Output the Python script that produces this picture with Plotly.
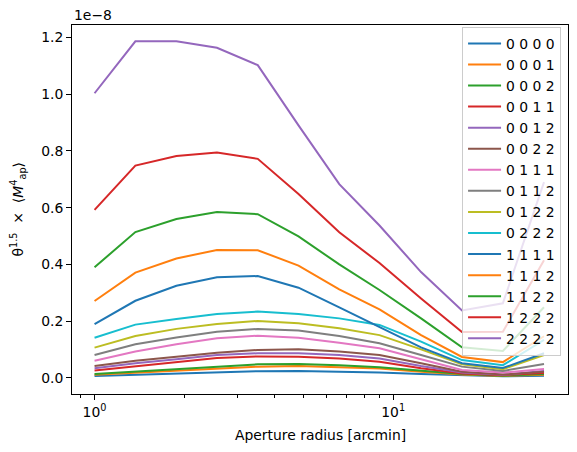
import plotly.graph_objects as go
import numpy as np

# aperture radii [arcmin]
radius = [1.0, 1.37, 1.88, 2.57, 3.52, 4.82, 6.6, 9.0, 12.4, 17.0, 23.3, 32.0]

# theta^1.5 * <Map^4>, in units of 1e-8
m0000 = [0.007, 0.011, 0.014, 0.020, 0.024, 0.025, 0.023, 0.019, 0.014, 0.009, 0.006, 0.008]
m0001 = [0.011, 0.018, 0.026, 0.034, 0.040, 0.042, 0.038, 0.033, 0.022, 0.012, 0.007, 0.011]
m0002 = [0.014, 0.022, 0.032, 0.040, 0.048, 0.049, 0.045, 0.038, 0.026, 0.014, 0.008, 0.014]
m0011 = [0.026, 0.040, 0.055, 0.070, 0.076, 0.075, 0.069, 0.057, 0.034, 0.016, 0.010, 0.018]
m0012 = [0.034, 0.052, 0.066, 0.081, 0.087, 0.087, 0.081, 0.069, 0.042, 0.019, 0.011, 0.025]
m0022 = [0.042, 0.061, 0.075, 0.089, 0.099, 0.101, 0.093, 0.081, 0.052, 0.022, 0.012, 0.022]
m0111 = [0.061, 0.093, 0.119, 0.140, 0.149, 0.142, 0.124, 0.105, 0.066, 0.028, 0.019, 0.032]
m0112 = [0.081, 0.119, 0.143, 0.163, 0.173, 0.167, 0.148, 0.122, 0.081, 0.040, 0.025, 0.049]
m0122 = [0.107, 0.148, 0.173, 0.190, 0.201, 0.193, 0.175, 0.151, 0.101, 0.048, 0.031, 0.081]
m0222 = [0.142, 0.188, 0.208, 0.225, 0.234, 0.225, 0.210, 0.187, 0.128, 0.063, 0.045, 0.134]
m1111 = [0.190, 0.272, 0.325, 0.355, 0.359, 0.318, 0.249, 0.181, 0.108, 0.052, 0.035, 0.087]
m1112 = [0.271, 0.371, 0.421, 0.451, 0.450, 0.396, 0.312, 0.242, 0.151, 0.074, 0.056, 0.147]
m1122 = [0.390, 0.514, 0.560, 0.585, 0.577, 0.499, 0.400, 0.310, 0.210, 0.108, 0.095, 0.249]
m1222 = [0.592, 0.748, 0.782, 0.794, 0.772, 0.648, 0.513, 0.405, 0.280, 0.162, 0.163, 0.415]
m2222 = [1.003, 1.186, 1.186, 1.163, 1.102, 0.890, 0.683, 0.537, 0.373, 0.238, 0.263, 0.690]

labels = ["0 0 0 0", "0 0 0 1", "0 0 0 2", "0 0 1 1", "0 0 1 2", "0 0 2 2", "0 1 1 1",
          "0 1 1 2", "0 1 2 2", "0 2 2 2", "1 1 1 1", "1 1 1 2", "1 1 2 2", "1 2 2 2", "2 2 2 2"]
series = [m0000, m0001, m0002, m0011, m0012, m0022, m0111, m0112, m0122, m0222,
          m1111, m1112, m1122, m1222, m2222]

ytick_vals = [0.0, 0.2, 0.4, 0.6, 0.8, 1.0, 1.2]
SCALE = 1e-8

tab10 = ["#1f77b4", "#ff7f0e", "#2ca02c", "#d62728", "#9467bd",
         "#8c564b", "#e377c2", "#7f7f7f", "#bcbd22", "#17becf"]

FONT = "DejaVu Sans"
FS = 13.9

fig = go.Figure()
for i, (lab, vals) in enumerate(zip(labels, series)):
    fig.add_trace(go.Scatter(x=radius, y=np.array(vals) * SCALE, mode="lines", name=lab,
                             line=dict(color=tab10[i % 10], width=2)))

# the page body adds an 8px offset, so the figure is 8px smaller than the window
fig.update_layout(
    width=569, height=444,
    margin=dict(l=64, r=9, t=17, b=58),
    paper_bgcolor="white", plot_bgcolor="white",
    font=dict(family=FONT, size=FS, color="black"),
    legend=dict(x=0.986, xanchor="right", y=0.995, yanchor="top",
                bgcolor="rgba(255,255,255,0.8)", bordercolor="#cccccc", borderwidth=1,
                itemwidth=33, font=dict(size=FS)),
    annotations=[
        dict(text="1e\u22128", xref="paper", yref="paper", x=0, y=1.0,
             xanchor="left", yanchor="bottom", showarrow=False, font=dict(size=FS)),
        dict(text="Aperture radius [arcmin]", xref="paper", yref="paper", x=0.5, y=-0.111,
             xanchor="center", yanchor="middle", showarrow=False, font=dict(size=FS)),
        dict(text="\u03b8<sup>1.5</sup>  \u00d7  \u27e8<i>M</i><sup>4</sup><sub>ap</sub>\u27e9",
             xref="paper", yref="paper", x=-0.109, y=0.5, textangle=-90,
             xanchor="center", yanchor="middle", showarrow=False, font=dict(size=FS)),
    ],
)

fig.update_xaxes(
    type="log", range=[-0.0755, 1.5855], automargin=False,
    tickvals=[1, 10], ticktext=["10<sup>0</sup>", "10<sup>1</sup>"],
    ticks="outside", ticklen=5, tickcolor="black",
    minor=dict(tickvals=[0.9, 2, 3, 4, 5, 6, 7, 8, 9, 20, 30], ticks="outside",
               ticklen=3, tickcolor="black"),
    showline=True, linecolor="black", linewidth=1, mirror=True,
    showgrid=False, zeroline=False,
)
fig.update_yaxes(
    range=[-0.0564 * SCALE, 1.2434 * SCALE], automargin=False,
    tickvals=[v * SCALE for v in ytick_vals], ticktext=[f"{v:.1f}" for v in ytick_vals],
    ticks="outside", ticklen=5, tickcolor="black",
    showline=True, linecolor="black", linewidth=1, mirror=True,
    showgrid=False, zeroline=False,
)

fig.write_html("out.html")
